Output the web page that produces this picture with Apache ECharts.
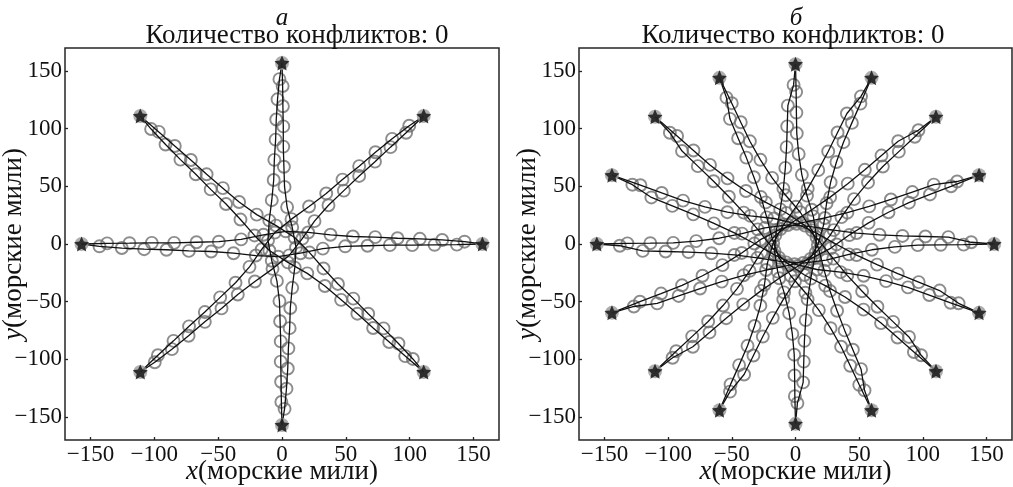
<!DOCTYPE html>
<html>
<head>
<meta charset="utf-8">
<script src="https://cdn.jsdelivr.net/npm/echarts@6/dist/echarts.min.js"></script>
<style>
html,body{margin:0;padding:0;background:#fff}
#c{width:1013px;height:487px}
</style>
</head>
<body>
<div id="c"></div>
<script>
// Axis ticks and limits (nautical miles)
const tickValues = [-150, -100, -50, 0, 50, 100, 150];
const axisMin = -170;
const axisMax = 170;

// Panel а: 8 aircraft on a ring, each flying to the opposite point
const anglesA = [0, 45, 90, 135, 180, 225, 270, 315];
const radiusA = 157;
// along-track progress of each sampled position (nmi from origin point)
const stationsA = [14, 31.5, 49, 66.5, 84, 101.5, 119, 136.5, 154, 171.5, 189, 206.5, 224, 241.5, 259, 276.5, 294];
// lateral deviation to the right of the nominal track at each sample (nmi)
const offsetsA = [2, 3.5, 4.5, 5, 6, 6.5, 8, 10, 11, 8, 4, 2, 1.5, 1, 1, 0.7, 0.5];
const conflictsA = 0;

// Panel б: 16 aircraft on a ring
const anglesB = [0, 22.5, 45, 67.5, 90, 112.5, 135, 157.5, 180, 202.5, 225, 247.5, 270, 292.5, 315, 337.5];
const radiusB = 156;
const stationsB = [18, 36, 54, 72, 90, 108, 126, 144, 162, 180, 198, 216, 234, 252, 270, 288];
const offsetsB = [1.5, 6, 6.5, 7, 8, 9.5, 12, 15, 16.5, 14, 9, 5, 2.5, 1, 0.7, 0.5];
const conflictsB = 0;

const SERIF = '"Liberation Serif", "DejaVu Serif", serif';
const STAR = 'path://M50,0L64.1,30.6L97.6,34.5L72.8,57.4L79.4,90.5L50,74L20.6,90.5L27.2,57.4L2.4,34.5L35.9,30.6Z';

function trackPoint(start, dir, right, u, v) {
  return [start[0] + u * dir[0] + v * right[0], start[1] + u * dir[1] + v * right[1]];
}

function panelSeries(angles, R, stations, offsets, gi) {
  const out = [];
  const samples = [];
  const starts = [];
  angles.forEach(function (deg) {
    const t = deg * Math.PI / 180;
    const c = Math.cos(t), s = Math.sin(t);
    const start = [R * c, R * s];
    const dir = [-c, -s];
    const right = [dir[1], -dir[0]];
    const path = [start];
    stations.forEach(function (u, k) {
      const p = trackPoint(start, dir, right, u, offsets[k]);
      path.push(p);
      samples.push(p);
    });
    path.push([-start[0], -start[1]]);
    starts.push(start);
    out.push({
      type: 'line', xAxisIndex: gi, yAxisIndex: gi, data: path,
      showSymbol: false, silent: true, z: 3,
      lineStyle: { color: '#111', width: 1.3 }
    });
  });
  out.push({
    type: 'scatter', xAxisIndex: gi, yAxisIndex: gi, data: samples,
    symbol: 'circle', symbolSize: 12, silent: true, z: 2,
    itemStyle: { color: 'rgba(0,0,0,0)', borderColor: '#6f6f6f', borderWidth: 1.9 }
  });
  out.push({
    type: 'scatter', xAxisIndex: gi, yAxisIndex: gi, data: starts,
    symbol: 'circle', symbolSize: 14, silent: true, z: 4,
    itemStyle: { color: '#9a9a9a' }
  });
  out.push({
    type: 'scatter', xAxisIndex: gi, yAxisIndex: gi, data: starts,
    symbol: STAR, symbolSize: 15, silent: true, z: 5,
    itemStyle: { color: '#0c0c0c' }
  });
  return out;
}

function axisName(letter, gap) {
  return {
    name: '{i|' + letter + '}(морские мили)', nameLocation: 'middle', nameGap: gap,
    nameMoveOverlap: false,
    nameTextStyle: {
      fontFamily: SERIF, fontSize: 27, color: '#111',
      rich: { i: { fontFamily: SERIF, fontSize: 27, fontStyle: 'italic', color: '#111' } }
    }
  };
}

function axisCommon(gi) {
  return {
    type: 'value', gridIndex: gi, min: axisMin, max: axisMax,
    axisLine: { show: false, onZero: false },
    splitLine: { show: false },
    axisTick: { show: true, inside: true, length: 3, customValues: tickValues, lineStyle: { color: '#222', width: 1.3 } },
    axisLabel: {
      customValues: tickValues, margin: 3, fontFamily: SERIF, fontSize: 23, color: '#111',
      formatter: function (v) { return String(v).replace('-', '\u2212'); }
    }
  };
}

function xAxisFor(gi) { return Object.assign(axisCommon(gi), axisName('x', 18)); }
function yAxisFor(gi) { return Object.assign(axisCommon(gi), axisName('y', 38)); }

function caption(x, y, text, italic) {
  return {
    type: 'text', x: x, y: y, silent: true,
    style: {
      text: text, fill: '#111', align: 'center', verticalAlign: 'middle',
      font: (italic ? 'italic 25px ' : '27px ') + SERIF
    }
  };
}

const chart = echarts.init(document.getElementById('c'), null, { renderer: 'canvas' });
chart.setOption({
  backgroundColor: '#fff',
  animation: false,
  grid: [
    { left: 65, top: 48, width: 434, height: 392, show: true, outerBoundsMode: 'none', containLabel: false, borderColor: '#262626', borderWidth: 1.5, backgroundColor: '#fff' },
    { left: 579, top: 48, width: 433, height: 392, show: true, outerBoundsMode: 'none', containLabel: false, borderColor: '#262626', borderWidth: 1.5, backgroundColor: '#fff' }
  ],
  xAxis: [xAxisFor(0), xAxisFor(1)],
  yAxis: [yAxisFor(0), yAxisFor(1)],
  graphic: [
    caption(282, 18, 'а', true),
    caption(297, 36, 'Количество конфликтов: ' + conflictsA, false),
    caption(796, 18, 'б', true),
    caption(793, 36, 'Количество конфликтов: ' + conflictsB, false)
  ],
  series: panelSeries(anglesA, radiusA, stationsA, offsetsA, 0)
    .concat(panelSeries(anglesB, radiusB, stationsB, offsetsB, 1))
});
</script>
</body>
</html>
